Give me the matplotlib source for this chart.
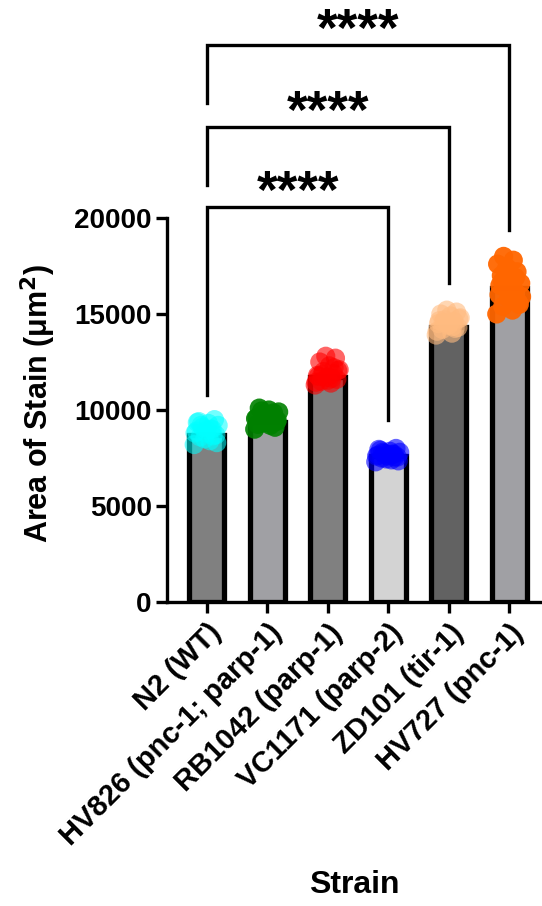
import numpy as np
import matplotlib.pyplot as plt

plt.rcParams['font.family'] = ['Liberation Sans', 'DejaVu Sans']
plt.rcParams['font.weight'] = 'bold'

# Stämme und Mittelwerte
strains = ['N2 (WT)', 'HV826 (pnc-1; parp-1)', 'RB1042 (parp-1)',
           'VC1171 (parp-2)', 'ZD101 (tir-1)', 'HV727 (pnc-1)']
means = [8700, 9380, 11720, 7600, 14320, 16350]
bar_colors = ['#808080', '#a0a0a4', '#808080', '#d3d3d3', '#626262', '#a0a0a4']
dot_colors = ['#00ffff', '#008000', '#ff0000', '#0000ff', '#ffbb80', '#ff6600']

# Einzelwerte
n2 = [8200, 8400, 8600, 8700, 8800, 8900, 9000, 9100, 9200, 9300, 9400, 9500,
      8500, 8800, 9000, 9200, 8300, 8950, 9350, 8650]
hv826 = [9000, 9200, 9300, 9400, 9500, 9600, 9700, 9800, 9900, 10000, 10100,
         9100, 9350, 9550, 9750, 9950, 9450, 9650, 9250, 9850]
rb1042 = [11300, 11400, 11500, 11600, 11700, 11800, 11900, 12000, 12100, 12300,
          12500, 12700, 12800, 11450, 11650, 11850, 12050, 11550, 11750, 12200]
vc1171 = [7300, 7400, 7500, 7550, 7600, 7650, 7700, 7750, 7800, 7850, 7900,
          8000, 7450, 7600, 7700, 7800, 7350, 7650, 7950, 7550]
zd101 = [13900, 14000, 14200, 14300, 14400, 14500, 14600, 14700, 14800, 14900,
         15000, 15100, 15200, 14100, 14350, 14550, 14750, 14450, 14650, 14250]
hv727 = [15000, 15200, 15400, 15600, 15800, 16000, 16200, 16400, 16600, 16800,
         17000, 17200, 17400, 17600, 17800, 18000, 15500, 16100, 16500, 16900,
         17300, 15900, 16300, 16700]
points = [n2, hv826, rb1042, vc1171, zd101, hv727]
dot_alpha = [0.55, 0.9, 0.6, 0.6, 0.6, 0.95]

# Signifikanz-Klammern: (links, rechts, Höhe, Ende links, Ende rechts)
brackets = [(0, 3, 20570, 10780, 9480),
            (0, 4, 24740, 21720, 16620),
            (0, 5, 29010, 25990, 19380)]

fig = plt.figure(figsize=(5.42, 9.06), dpi=100)
ax = fig.add_axes([0.308, 0.3355, 0.690, 0.6645])

x = np.arange(len(strains))
ax.bar(x, means, width=0.58, color=bar_colors, edgecolor='black', linewidth=3.8, zorder=2)

for i, vals in enumerate(points):
    n = len(vals)
    jit = ((np.arange(n) * 0.618) % 1 - 0.5) * 0.42
    ax.scatter(x[i] + jit, vals, s=190, color=dot_colors[i], alpha=dot_alpha[i],
               edgecolors='none', zorder=3)

for a, b, h, ya, yb in brackets:
    ax.plot([x[a], x[a], x[b], x[b]], [ya, h, h, yb], color='black', lw=2.4,
            clip_on=False, zorder=4, solid_joinstyle='miter')
    ax.text((x[a] + x[b]) / 2, h - 50, '****', ha='center', va='baseline',
            fontsize=38, fontweight='bold')

ax.set_xlim(-0.66, 5.52)
ax.set_ylim(0, 31350)
ax.set_yticks([0, 5000, 10000, 15000, 20000])
ax.spines['left'].set_bounds(0, 20000)
ax.spines['top'].set_visible(False)
ax.spines['right'].set_visible(False)
for s in ['left', 'bottom']:
    ax.spines[s].set_linewidth(2.4)
ax.tick_params(axis='both', width=2.4, length=8, labelsize=20, pad=3)
ax.tick_params(axis='x', pad=4)
ax.set_xticks(x)
ax.set_xticklabels(strains, rotation=45, ha='right', rotation_mode='anchor',
                   fontsize=21, fontweight='bold')
for lab in ax.get_yticklabels():
    lab.set_fontweight('bold')

ax.set_ylabel('Area of Stain (μm$^\\mathbf{2}$)', fontsize=22, fontweight='bold')
ax.yaxis.set_label_coords(-0.29, 0.33)
ax.set_xlabel('Strain', fontsize=23, fontweight='bold', va='top')
ax.xaxis.set_label_coords(0.50, -0.445)

fig.savefig('out.png', dpi=100)
